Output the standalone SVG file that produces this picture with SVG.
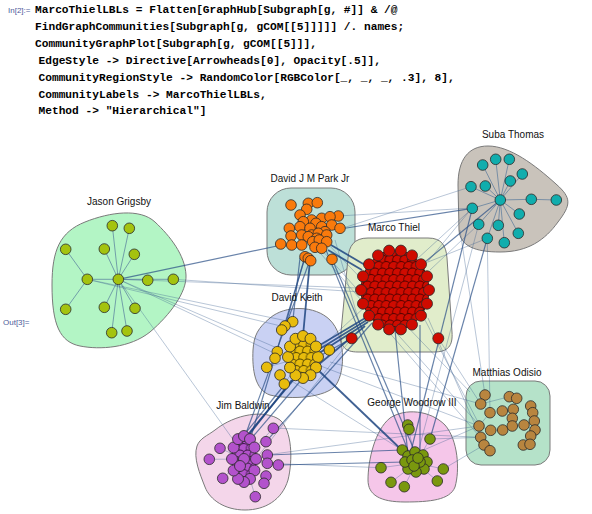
<svg xmlns="http://www.w3.org/2000/svg" width="592" height="514" viewBox="0 0 592 514">
<style>
.code{font-family:"Liberation Mono","DejaVu Sans Mono",monospace;font-weight:bold;font-size:11.2px;fill:#000}
.prompt{font-family:"Liberation Sans",Arial,sans-serif;font-size:8px;fill:#4d5a9a}
.lbl{font-family:"Liberation Sans",Arial,sans-serif;font-size:10px;fill:#111;text-anchor:middle}
.reg{stroke:#7a7a7a;stroke-width:1}
.t{stroke:#3c5f8f;stroke-opacity:.45;stroke-width:.8}
.m{stroke:#2a4f86;stroke-opacity:.7;stroke-width:1.2}
.k{stroke:#1f4580;stroke-opacity:.85;stroke-width:1.8}
.j{stroke:#50749a;stroke-opacity:.75;stroke-width:.9}
.n circle{stroke:#2a2a2a;stroke-width:.8}
</style>
<defs>
<g id="tile">
<circle cx="0" cy="0" r="5"/><circle cx="7.5" cy="0" r="5"/>
<circle cx="-3.75" cy="6.5" r="5"/><circle cx="3.75" cy="6.5" r="5"/><circle cx="11.25" cy="6.5" r="5"/>
<circle cx="0" cy="13" r="5"/><circle cx="7.5" cy="13" r="5"/>
</g>
<pattern id="pr" patternUnits="userSpaceOnUse" width="7.5" height="13"><rect width="7.5" height="13" fill="#b00800"/><use href="#tile" fill="#cf0b00" stroke="#3a0000" stroke-width=".8"/></pattern>
<pattern id="py" patternUnits="userSpaceOnUse" width="7.5" height="13"><rect width="7.5" height="13" fill="#c9a000"/><use href="#tile" fill="#e8bc0c" stroke="#3a3000" stroke-width=".8"/></pattern>
<pattern id="pp" patternUnits="userSpaceOnUse" width="7.5" height="13"><rect width="7.5" height="13" fill="#9a3fb5"/><use href="#tile" fill="#b352cc" stroke="#2a0a33" stroke-width=".8"/></pattern>
</defs>
<rect width="592" height="514" fill="#fff"/>
<g id="code">
<text class="prompt" x="8" y="12.5">In[2]:=</text>
<text class="code" x="35" y="13">MarcoThielLBLs = Flatten[GraphHub[Subgraph[g, #]] &amp; /@</text>
<text class="code" x="35" y="30.3">FindGraphCommunities[Subgraph[g, gCOM[[5]]]]] /. names;</text>
<text class="code" x="35" y="47">CommunityGraphPlot[Subgraph[g, gCOM[[5]]],</text>
<text class="code" x="38.5" y="64.3">EdgeStyle -&gt; Directive[Arrowheads[0], Opacity[.5]],</text>
<text class="code" x="38.5" y="81">CommunityRegionStyle -&gt; RandomColor[RGBColor[_, _, _, .3], 8],</text>
<text class="code" x="38.5" y="97.5">CommunityLabels -&gt; MarcoThielLBLs,</text>
<text class="code" x="38.5" y="114.3">Method -&gt; "Hierarchical"]</text>
<text class="prompt" x="3" y="325">Out[3]=</text>
</g>
<g id="regions">
<path id="r-jason" class="reg" fill="#b3f5c5" d="M52,285 C52,250 60,232 85,222 C110,212 140,208 155,222 C170,236 185,255 186,275 C187,292 170,315 150,332 C130,348 100,350 80,346 C60,342 52,325 52,285 Z"/>
<path id="r-suba" class="reg" fill="#c9c3bb" d="M458,185 C458,160 468,146 488,146 C510,146 535,165 556,184 C572,198 571,205 558,222 C545,240 528,252 500,252 C475,252 460,246 459,230 Z"/>
<rect id="r-park" class="reg" fill="#bde0d8" x="267" y="188" width="88" height="87" rx="24"/>
<path id="r-marco" class="reg" fill="#e1edcb" d="M368,238 L428,238 C442,238 446,246 447,258 L452,332 C453,346 448,352 434,352 L358,352 C344,352 340,346 341,332 L348,258 C349,246 354,238 368,238 Z"/>
<path id="r-keith" class="reg" fill="#c9d1f3" d="M270,318 C285,305 315,305 330,320 C345,335 346,370 336,385 C326,398 290,400 270,395 C255,390 252,370 253,350 C254,335 258,328 270,318 Z"/>
<path id="r-jim" class="reg" fill="#f4d6ea" d="M215,430 C235,414 265,409 280,420 C292,430 293,460 288,480 C282,500 265,510 245,510 C225,510 210,500 205,487 C200,474 193,458 197,446 C200,438 207,436 215,430 Z"/>
<path id="r-george" class="reg" fill="#f5c6e9" d="M390,418 C405,408 430,410 445,425 C458,440 460,470 455,487 C450,500 430,502 405,502 C380,502 368,495 368,480 C368,460 375,430 390,418 Z"/>
<rect id="r-matthias" class="reg" fill="#b5e2c9" x="466" y="381" width="84" height="84" rx="15"/>
</g>
<g id="connectors">
<g class="j">
<line x1="118.3" y1="279.3" x2="112.3" y2="225.7"/><line x1="118.3" y1="279.3" x2="129.3" y2="228.3"/><line x1="118.3" y1="279.3" x2="104.3" y2="249"/><line x1="118.3" y1="279.3" x2="134.3" y2="254.3"/><line x1="118.3" y1="279.3" x2="87.3" y2="279.3"/><line x1="118.3" y1="279.3" x2="147.7" y2="280.3"/><line x1="118.3" y1="279.3" x2="173.3" y2="279.3"/><line x1="118.3" y1="279.3" x2="104.3" y2="307.3"/><line x1="118.3" y1="279.3" x2="135" y2="308.3"/><line x1="118.3" y1="279.3" x2="111.7" y2="332.7"/><line x1="118.3" y1="279.3" x2="127" y2="331"/><line x1="87.3" y1="279.3" x2="65.7" y2="249.3"/><line x1="87.3" y1="279.3" x2="65.7" y2="309.3"/>
<line x1="500.3" y1="200" x2="482.7" y2="165"/><line x1="500.3" y1="200" x2="495.7" y2="159.3"/><line x1="500.3" y1="200" x2="509.3" y2="159.3"/><line x1="500.3" y1="200" x2="522.3" y2="174"/><line x1="500.3" y1="200" x2="471" y2="186.7"/><line x1="500.3" y1="200" x2="485.3" y2="186"/><line x1="500.3" y1="200" x2="510.3" y2="181"/><line x1="500.3" y1="200" x2="531.3" y2="199.3"/><line x1="531.3" y1="199.3" x2="556.3" y2="200"/><line x1="500.3" y1="200" x2="472.3" y2="208.3"/><line x1="500.3" y1="200" x2="519.3" y2="214"/><line x1="500.3" y1="200" x2="478.7" y2="224.3"/><line x1="500.3" y1="200" x2="498.3" y2="225.3"/><line x1="500.3" y1="200" x2="518.3" y2="233.3"/><line x1="500.3" y1="200" x2="487.3" y2="238.3"/><line x1="500.3" y1="200" x2="504.3" y2="242.7"/>
</g>
<g class="t">
<line x1="87.3" y1="279.3" x2="285" y2="327"/><line x1="118.3" y1="279.3" x2="277" y2="348"/><line x1="87.3" y1="279.3" x2="292" y2="322"/><line x1="118.3" y1="279.3" x2="276" y2="354"/><line x1="118.3" y1="279.3" x2="237" y2="445"/><line x1="173.3" y1="279.3" x2="360" y2="292"/><line x1="147.7" y1="280.3" x2="358" y2="288"/>
<line x1="320" y1="248" x2="480" y2="426"/><line x1="326" y1="242" x2="470" y2="392"/><line x1="315" y1="247" x2="480" y2="437"/><line x1="335" y1="240" x2="360" y2="325"/><line x1="338" y1="216" x2="472" y2="208"/>
<line x1="425" y1="265" x2="472" y2="208"/><line x1="430" y1="270" x2="478.7" y2="224.3"/><line x1="428" y1="262" x2="487.3" y2="238.3"/><line x1="425" y1="320" x2="480" y2="426"/><line x1="428" y1="318" x2="484" y2="445"/><line x1="438.3" y1="338.3" x2="480.7" y2="404"/><line x1="351.7" y1="338.3" x2="255" y2="460"/>
<line x1="330" y1="362" x2="480.7" y2="404"/><line x1="318" y1="365" x2="479" y2="426"/><line x1="290" y1="380" x2="402" y2="450"/>
<line x1="266" y1="455" x2="479" y2="426"/><line x1="273" y1="428" x2="480.7" y2="437.3"/><line x1="267.3" y1="463.3" x2="381" y2="467.7"/>
<line x1="478.7" y1="224.3" x2="416" y2="460"/><line x1="472.3" y1="208.3" x2="318" y2="350"/><line x1="460" y1="230" x2="485" y2="395"/><line x1="487.3" y1="238.3" x2="490" y2="412.7"/><line x1="471" y1="186.7" x2="340" y2="229"/>
<line x1="430" y1="439" x2="480.7" y2="437.3"/><line x1="443.3" y1="469" x2="484" y2="445"/><line x1="410" y1="456" x2="479" y2="426"/>
<line x1="485" y1="395" x2="480.7" y2="404"/><line x1="480.7" y1="404" x2="490" y2="412.7"/><line x1="479" y1="426" x2="490.7" y2="430.3"/><line x1="490.7" y1="430.3" x2="502.7" y2="430"/><line x1="502.7" y1="430" x2="512.3" y2="426"/><line x1="480.7" y1="437.3" x2="484" y2="445"/><line x1="484" y1="445" x2="490" y2="450.7"/><line x1="524" y1="425" x2="535" y2="430"/><line x1="530.7" y1="406" x2="532.7" y2="412.7"/><line x1="534.3" y1="421" x2="535" y2="430"/><line x1="523.3" y1="445" x2="530.7" y2="436"/><line x1="509.3" y1="396.7" x2="480.7" y2="404"/><line x1="490" y1="412.7" x2="479" y2="426"/><line x1="502.3" y1="411" x2="512.3" y2="418.3"/>
<line x1="416" y1="463" x2="407.7" y2="425"/><line x1="416" y1="463" x2="430" y2="439"/><line x1="416" y1="463" x2="402.3" y2="450"/><line x1="416" y1="463" x2="381" y2="467.7"/><line x1="416" y1="463" x2="443.3" y2="469"/><line x1="416" y1="463" x2="391" y2="482.3"/><line x1="416" y1="463" x2="437.3" y2="481"/><line x1="416" y1="463" x2="404.3" y2="486.7"/>
<line x1="244" y1="459" x2="273.3" y2="428.3"/><line x1="244" y1="459" x2="220" y2="448.3"/><line x1="244" y1="459" x2="209.3" y2="459.3"/><line x1="244" y1="459" x2="278.3" y2="465"/><line x1="244" y1="459" x2="222.7" y2="478.3"/><line x1="244" y1="459" x2="255.3" y2="496.7"/>
<line x1="303" y1="357" x2="266.7" y2="367.3"/><line x1="303" y1="357" x2="329.3" y2="350"/><line x1="303" y1="357" x2="284.3" y2="384"/>
</g>
<g class="m">
<line x1="118.3" y1="279.3" x2="281.7" y2="245"/><line x1="340" y1="229" x2="472.3" y2="208.3"/>
<line x1="300" y1="258" x2="292.7" y2="321.7"/><line x1="305" y1="257" x2="285" y2="326"/><line x1="305" y1="257" x2="250" y2="440"/><line x1="310" y1="260" x2="245" y2="436"/><line x1="326" y1="250" x2="410" y2="455"/><line x1="332" y1="259" x2="415" y2="452"/>
<line x1="425" y1="262" x2="500.3" y2="200"/><line x1="395" y1="330" x2="408" y2="455"/><line x1="420" y1="325" x2="420" y2="455"/><line x1="372" y1="323" x2="266" y2="441.7"/><line x1="351.7" y1="338.3" x2="318" y2="357"/>
<line x1="285" y1="384" x2="240" y2="440"/><line x1="303" y1="378" x2="250" y2="440"/>
<line x1="267.3" y1="455" x2="402.3" y2="450"/><line x1="278.3" y1="465" x2="405" y2="462"/><line x1="472.3" y1="208.3" x2="410" y2="455"/><line x1="487.3" y1="238.3" x2="430" y2="439"/>
</g>
<g class="k">
<line x1="331" y1="245" x2="365" y2="265"/><line x1="328" y1="250" x2="362" y2="270"/><line x1="310" y1="260" x2="303" y2="336"/>
<line x1="370" y1="318" x2="318" y2="350"/><line x1="368" y1="322" x2="316" y2="355"/><line x1="372" y1="314" x2="320" y2="345"/><line x1="365" y1="326" x2="318" y2="365"/>
<line x1="318" y1="370" x2="408" y2="456"/><line x1="295" y1="378" x2="245" y2="438"/><line x1="292" y1="380" x2="240" y2="446"/>
</g>
</g>
<g id="nodes">
<g id="n-jason" class="n" fill="#a4c30f">
<circle cx="112.3" cy="225.7" r="5.3"/><circle cx="129.3" cy="228.3" r="5.3"/><circle cx="65.7" cy="249.3" r="5.3"/><circle cx="104.3" cy="249" r="5.3"/><circle cx="134.3" cy="254.3" r="5.3"/><circle cx="87.3" cy="279.3" r="5.3"/><circle cx="118.3" cy="279.3" r="5.3"/><circle cx="147.7" cy="280.3" r="5.3"/><circle cx="173.3" cy="279.3" r="5.3"/><circle cx="65.7" cy="309.3" r="5.3"/><circle cx="104.3" cy="307.3" r="5.3"/><circle cx="135" cy="308.3" r="5.3"/><circle cx="111.7" cy="332.7" r="5.3"/><circle cx="127" cy="331" r="5.3"/>
</g>
<g id="n-suba" class="n" fill="#11adad">
<circle cx="482.7" cy="165" r="5.3"/><circle cx="495.7" cy="159.3" r="5.3"/><circle cx="509.3" cy="159.3" r="5.3"/><circle cx="522.3" cy="174" r="5.3"/><circle cx="471" cy="186.7" r="5.3"/><circle cx="485.3" cy="186" r="5.3"/><circle cx="510.3" cy="181" r="5.3"/><circle cx="500.3" cy="200" r="5.3"/><circle cx="531.3" cy="199.3" r="5.3"/><circle cx="556.3" cy="200" r="5.3"/><circle cx="472.3" cy="208.3" r="5.3"/><circle cx="519.3" cy="214" r="5.3"/><circle cx="478.7" cy="224.3" r="5.3"/><circle cx="498.3" cy="225.3" r="5.3"/><circle cx="518.3" cy="233.3" r="5.3"/><circle cx="487.3" cy="238.3" r="5.3"/><circle cx="504.3" cy="242.7" r="5.3"/>
</g>
<g id="n-park" class="n" fill="#f97a0c">
<circle cx="291" cy="205" r="5.3"/><circle cx="308.3" cy="203.3" r="5.3"/><circle cx="317.3" cy="202.7" r="5.3"/><circle cx="306.7" cy="209.3" r="5.3"/><circle cx="338.3" cy="216" r="5.3"/><circle cx="300" cy="215" r="5.3"/><circle cx="311.7" cy="220" r="5.3"/><circle cx="321.7" cy="218.3" r="5.3"/><circle cx="330" cy="216.7" r="5.3"/><circle cx="303.3" cy="221.7" r="5.3"/><circle cx="316" cy="223.3" r="5.3"/><circle cx="289.3" cy="228.3" r="5.3"/><circle cx="300" cy="226.7" r="5.3"/><circle cx="310" cy="228.3" r="5.3"/><circle cx="321.7" cy="226.7" r="5.3"/><circle cx="331.7" cy="225" r="5.3"/><circle cx="340" cy="228.3" r="5.3"/><circle cx="325" cy="231.7" r="5.3"/><circle cx="291" cy="236" r="5.3"/><circle cx="301.7" cy="235" r="5.3"/><circle cx="311.7" cy="235" r="5.3"/><circle cx="318.3" cy="233.3" r="5.3"/><circle cx="326.7" cy="235" r="5.3"/><circle cx="308.3" cy="236.7" r="5.3"/><circle cx="316.7" cy="238.3" r="5.3"/><circle cx="280.7" cy="244" r="5.3"/><circle cx="291.7" cy="245" r="5.3"/><circle cx="301.7" cy="245" r="5.3"/><circle cx="312.7" cy="241.7" r="5.3"/><circle cx="319.3" cy="240" r="5.3"/><circle cx="326.7" cy="241.7" r="5.3"/><circle cx="315" cy="247.3" r="5.3"/><circle cx="321.7" cy="248.3" r="5.3"/><circle cx="305" cy="256.7" r="5.3"/><circle cx="308.3" cy="258.3" r="5.3"/><circle cx="310.7" cy="260.7" r="5.3"/><circle cx="332" cy="259.3" r="5.3"/>
</g>
<g id="n-marco" class="n" fill="#cf0b00">
<ellipse cx="395" cy="290" rx="34" ry="40" fill="url(#pr)" stroke="#3a0000" stroke-width=".8"/>
<circle cx="429" cy="290" r="5.5"/><circle cx="427" cy="303.7" r="5.5"/><circle cx="421" cy="315.7" r="5.5"/><circle cx="412" cy="324.6" r="5.5"/><circle cx="400.9" cy="329.4" r="5.5"/><circle cx="389.1" cy="329.4" r="5.5"/><circle cx="378" cy="324.6" r="5.5"/><circle cx="369" cy="315.7" r="5.5"/><circle cx="363" cy="303.7" r="5.5"/><circle cx="361" cy="290" r="5.5"/><circle cx="363" cy="276.3" r="5.5"/><circle cx="369" cy="264.3" r="5.5"/><circle cx="378" cy="255.4" r="5.5"/><circle cx="389.1" cy="250.6" r="5.5"/><circle cx="400.9" cy="250.6" r="5.5"/><circle cx="412" cy="255.4" r="5.5"/><circle cx="421" cy="264.3" r="5.5"/><circle cx="427" cy="276.3" r="5.5"/>
<circle cx="351.7" cy="338.3" r="5.5"/><circle cx="438.3" cy="338.3" r="5.5"/>
</g>
<g id="n-keith" class="n" fill="#e8bc0c">
<ellipse cx="303" cy="357" rx="15" ry="21" fill="url(#py)" stroke="#3a3000" stroke-width=".8"/>
<circle cx="318" cy="357" r="5.5"/><circle cx="316" cy="367.5" r="5.5"/><circle cx="310.5" cy="375.2" r="5.5"/><circle cx="303" cy="378" r="5.5"/><circle cx="295.5" cy="375.2" r="5.5"/><circle cx="290" cy="367.5" r="5.5"/><circle cx="288" cy="357" r="5.5"/><circle cx="290" cy="346.5" r="5.5"/><circle cx="295.5" cy="338.8" r="5.5"/><circle cx="303" cy="336" r="5.5"/><circle cx="310.5" cy="338.8" r="5.5"/><circle cx="316" cy="346.5" r="5.5"/>
<circle cx="292.7" cy="321.7" r="5.3"/><circle cx="285" cy="326" r="5.3"/><circle cx="281.7" cy="330" r="5.3"/><circle cx="277.3" cy="351.7" r="5.3"/><circle cx="275" cy="358.3" r="5.3"/><circle cx="266.7" cy="367.3" r="5.3"/><circle cx="280" cy="375" r="5.3"/><circle cx="284.3" cy="384" r="5.3"/><circle cx="329.3" cy="350" r="5.3"/>
</g>
<g id="n-jim" class="n" fill="#b352cc">
<ellipse cx="244" cy="459" rx="12" ry="23" fill="url(#pp)" stroke="#2a0a33" stroke-width=".8"/>
<circle cx="256" cy="459" r="5.5"/><circle cx="254.4" cy="470.5" r="5.5"/><circle cx="250" cy="478.9" r="5.5"/><circle cx="244" cy="482" r="5.5"/><circle cx="238" cy="478.9" r="5.5"/><circle cx="233.6" cy="470.5" r="5.5"/><circle cx="232" cy="459" r="5.5"/><circle cx="233.6" cy="447.5" r="5.5"/><circle cx="238" cy="439.1" r="5.5"/><circle cx="244" cy="436" r="5.5"/><circle cx="250" cy="439.1" r="5.5"/><circle cx="254.4" cy="447.5" r="5.5"/><circle cx="244" cy="459" r="5.5"/><circle cx="240" cy="466" r="5.5"/>
<circle cx="273.3" cy="428.3" r="5.3"/><circle cx="266" cy="441.7" r="5.3"/><circle cx="220" cy="448.3" r="5.3"/><circle cx="209.3" cy="459.3" r="5.3"/><circle cx="267.3" cy="455" r="5.3"/><circle cx="267.3" cy="463.3" r="5.3"/><circle cx="278.3" cy="465" r="5.3"/><circle cx="222.7" cy="478.3" r="5.3"/><circle cx="266" cy="476" r="5.3"/><circle cx="264" cy="483.3" r="5.3"/><circle cx="255.3" cy="496.7" r="5.3"/>
</g>
<g id="n-george" class="n" fill="#7a980e">
<circle cx="407.7" cy="425" r="5.3"/><circle cx="409" cy="429.3" r="5.3"/><circle cx="430" cy="439" r="5.3"/><circle cx="402.3" cy="450" r="5.3"/><circle cx="381" cy="467.7" r="5.3"/><circle cx="443.3" cy="469" r="5.3"/><circle cx="391" cy="482.3" r="5.3"/><circle cx="437.3" cy="481" r="5.3"/><circle cx="404.3" cy="486.7" r="5.3"/>
<circle cx="408" cy="456" r="5.3"/><circle cx="415" cy="452" r="5.3"/><circle cx="423" cy="455" r="5.3"/><circle cx="427" cy="462" r="5.3"/><circle cx="424" cy="469" r="5.3"/><circle cx="416" cy="472" r="5.3"/><circle cx="408" cy="469" r="5.3"/><circle cx="405" cy="462" r="5.3"/><circle cx="412" cy="460" r="5.3"/><circle cx="420" cy="462" r="5.3"/><circle cx="414" cy="466" r="5.3"/><circle cx="418" cy="458" r="5.3"/>
</g>
<g id="n-matthias" class="n" fill="#b8853f">
<circle cx="485" cy="395" r="5.3"/><circle cx="480.7" cy="404" r="5.3"/><circle cx="509.3" cy="396.7" r="5.3"/><circle cx="516.7" cy="398.3" r="5.3"/><circle cx="530.7" cy="406" r="5.3"/><circle cx="490" cy="412.7" r="5.3"/><circle cx="502.3" cy="411" r="5.3"/><circle cx="513.3" cy="409.3" r="5.3"/><circle cx="532.7" cy="412.7" r="5.3"/><circle cx="512.3" cy="418.3" r="5.3"/><circle cx="534.3" cy="421" r="5.3"/><circle cx="479" cy="426" r="5.3"/><circle cx="490.7" cy="430.3" r="5.3"/><circle cx="502.7" cy="430" r="5.3"/><circle cx="512.3" cy="426" r="5.3"/><circle cx="524" cy="425" r="5.3"/><circle cx="535" cy="430" r="5.3"/><circle cx="480.7" cy="437.3" r="5.3"/><circle cx="530.7" cy="436" r="5.3"/><circle cx="484" cy="445" r="5.3"/><circle cx="490" cy="450.7" r="5.3"/><circle cx="523.3" cy="445" r="5.3"/><circle cx="530" cy="444.3" r="5.3"/>
</g>
</g>
<g id="labels">
<text class="lbl" x="119" y="205">Jason Grigsby</text>
<text class="lbl" x="513" y="138">Suba Thomas</text>
<text class="lbl" x="310" y="182">David J M Park Jr</text>
<text class="lbl" x="394" y="231">Marco Thiel</text>
<text class="lbl" x="297" y="301">David Keith</text>
<text class="lbl" x="243" y="408.5">Jim Baldwin</text>
<text class="lbl" x="412" y="406">George Woodrow III</text>
<text class="lbl" x="507" y="375.5">Matthias Odisio</text>
</g>
</svg>
